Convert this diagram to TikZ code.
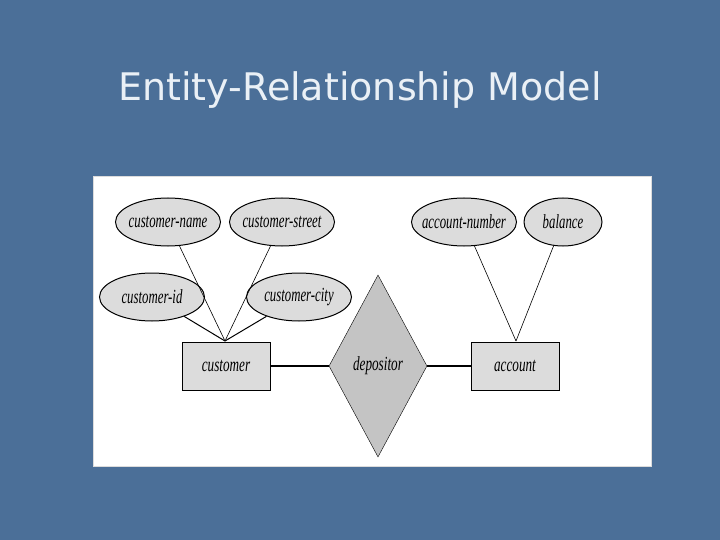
\documentclass[tikz,border=0pt]{standalone}
\usepackage{fontspec}
\setmainfont{Liberation Serif}
\newfontfamily\titlefont{DejaVu Sans}
\usetikzlibrary{shapes.geometric}
\definecolor{bg}{HTML}{4B6F98}
\definecolor{fillg}{HTML}{DCDCDC}
\definecolor{relg}{HTML}{C4C4C4}
\definecolor{titlec}{HTML}{EAF0F6}
\begin{document}
\begin{tikzpicture}[x=1pt,y=-1pt,
  lbl/.style={font=\fontsize{20}{20}\selectfont\itshape},
  attr/.style={ellipse,draw,line width=1pt,fill=fillg,minimum width=105pt,minimum height=48pt,inner xsep=-9pt,inner ysep=0pt,lbl},
  ent/.style={rectangle,draw,fill=fillg,minimum width=88pt,minimum height=48pt,inner sep=0pt,lbl},
  rel/.style={diamond,draw,fill=relg,minimum width=98pt,minimum height=182pt,inner sep=0pt,lbl},
  thin/.style={draw,line width=0.6pt},
  thick/.style={draw,line width=1.8pt}]
\fill[bg] (0,0) rectangle (720,540);
\useasboundingbox (0,0) rectangle (720,540);
\fill[white] (93,177) rectangle (651,466);
\draw[fillg,line width=1pt] (93,177) rectangle (651,466);
\node[font=\titlefont\fontsize{38}{38}\selectfont,text=titlec] (title) at (360,90) {Entity-Relationship Model};
\node[attr] (cname) at (168,222) {\scalebox{0.64}[1]{customer-name}};
\node[attr] (cstreet) at (282,222) {\scalebox{0.64}[1]{customer-street}};
\node[attr] (cid) at (152,297) {\scalebox{0.64}[1]{customer-id}};
\node[attr] (ccity) at (299,297) {\scalebox{0.64}[1]{customer-city}};
\node[attr] (anum) at (464,222) {\scalebox{0.64}[1]{account-number}};
\node[attr,minimum width=78pt] (bal) at (563,222) {\scalebox{0.64}[1]{balance}};
\node[ent] (cust) at (226,366) {\scalebox{0.66}[1]{customer}};
\node[ent] (acct) at (515,366) {\scalebox{0.66}[1]{account}};
\node[rel] (dep) at (378,366) {\scalebox{0.66}[1]{depositor}};
\coordinate (ct) at (225,341);
\coordinate (at) at (516,341);
\draw[thin] (cname) -- (ct);
\draw[thin] (cstreet) -- (ct);
\draw[line width=1pt] (cid) -- (ct);
\draw[line width=1pt] (ccity) -- (ct);
\draw[thin] (anum) -- (at);
\draw[thin] (bal) -- (at);
\draw[thick] (cust) -- (dep);
\draw[thick] (dep) -- (acct);
\end{tikzpicture}
\end{document}
